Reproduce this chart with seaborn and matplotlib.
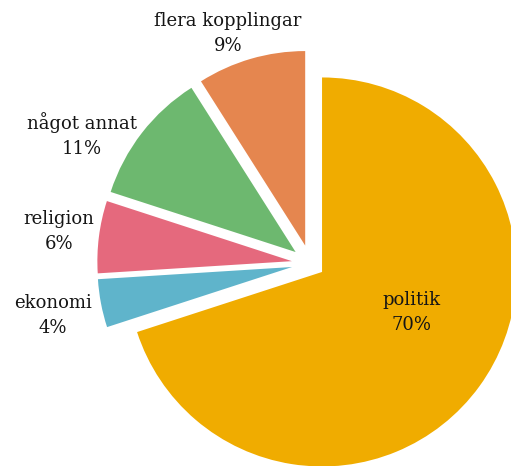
import matplotlib
matplotlib.use('Agg')
import matplotlib.pyplot as plt
import seaborn as sns

# Data
categories = ['politik', 'ekonomi', 'religion', 'något annat', 'flera kopplingar']
shares = [70, 4, 6, 11, 9]
pct_labels = ['70%', '4%', '6%', '11%', '9%']
colors = ['#F0AC00', '#5FB4CB', '#E5697D', '#6DB86F', '#E5864F']

# Layout (radius = 1 in data units)
explode = [0.074, 0.096, 0.096, 0.096, 0.096]
label_pos = [(0.522, -0.254), (-1.324, -0.265), (-1.293, 0.162),
             (-1.174, 0.661), (-0.424, 1.185)]

sns.set_style('white')
plt.rcParams['font.family'] = ['DejaVu Serif']

W, H, DPI = 511, 466, 100
scale = 194.5          # pixels per radius
cx, cy = 310.4, 263.5  # pie centre in pixels from top-left

fig = plt.figure(figsize=(W / DPI, H / DPI), dpi=DPI)
ax = fig.add_axes([0, 0, 1, 1])

ax.pie(shares, colors=colors, explode=explode, startangle=90,
       counterclock=False, radius=1, wedgeprops=dict(linewidth=0))

for cat, pct, (x, y) in zip(categories, pct_labels, label_pos):
    ax.text(x, y, f'{cat}\n{pct}', ha='center', va='center',
            fontsize=13, color='#151515', linespacing=1.5)

ax.set_xlim(-cx / scale, (W - cx) / scale)
ax.set_ylim((cy - H) / scale, cy / scale)
ax.set_aspect('equal')
ax.axis('off')

fig.savefig('out.png', dpi=DPI, facecolor='white')
